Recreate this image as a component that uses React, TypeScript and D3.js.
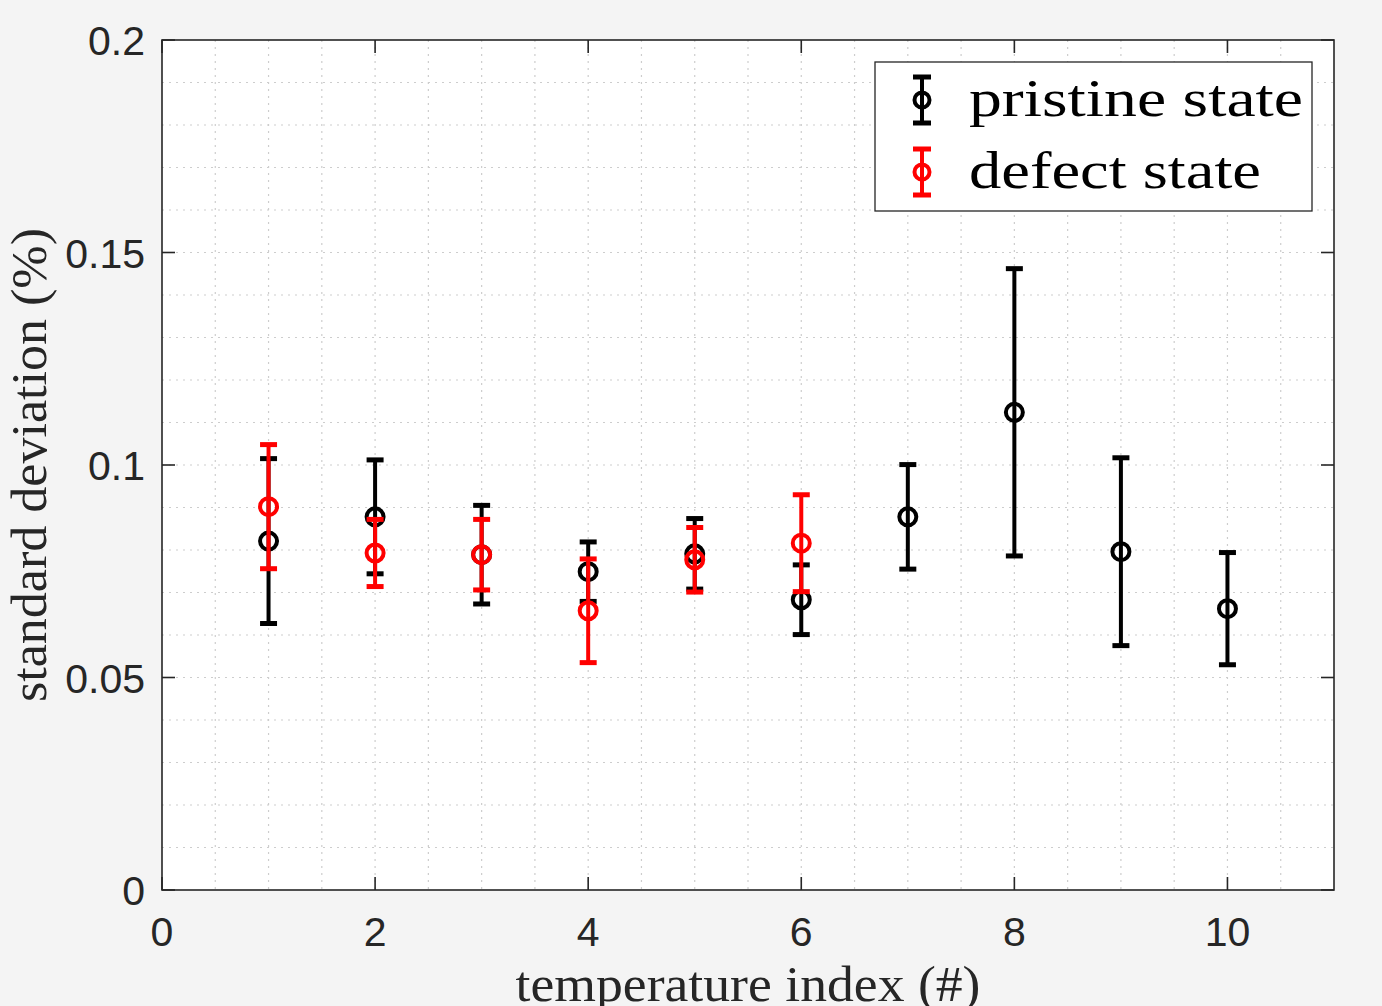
import { useEffect, useRef } from "react";
import * as d3 from "d3";

// temperature index on the x axis
const tempIndex = [1, 2, 3, 4, 5, 6, 7, 8, 9, 10];
const defectIndex = [1, 2, 3, 4, 5, 6];

// standard deviation (%) and error half-width
const pristineMean = [0.0821, 0.0878, 0.0789, 0.0749, 0.0791, 0.0683, 0.0878, 0.1124, 0.0796, 0.0662];
const pristineErr = [0.0194, 0.0134, 0.0116, 0.007, 0.0083, 0.0082, 0.0123, 0.0338, 0.0221, 0.0132];
const defectMean = [0.0902, 0.0793, 0.0789, 0.0657, 0.0777, 0.0816];
const defectErr = [0.0146, 0.0079, 0.0083, 0.0122, 0.0076, 0.0114];

const xTicks = [0, 2, 4, 6, 8, 10];
const yTicks = [0, 0.05, 0.1, 0.15, 0.2];
const seriesNames = ["pristine state", "defect state"];

const W = 1382;
const H = 1006;
const margin = { top: 40, right: 48, bottom: 116, left: 162 };
const AX = "#262626";

export default function App() {
  const ref = useRef<SVGSVGElement>(null);

  useEffect(() => {
    const svg = d3.select(ref.current);
    svg.selectAll("*").remove();

    const pw = W - margin.left - margin.right;
    const ph = H - margin.top - margin.bottom;

    svg.append("rect").attr("width", W).attr("height", H).attr("fill", "#f4f4f4");

    const x = d3.scaleLinear().domain([0, 11]).range([0, pw]);
    const y = d3.scaleLinear().domain([0, 0.2]).range([ph, 0]);

    const g = svg.append("g").attr("transform", `translate(${margin.left},${margin.top})`);
    g.append("rect").attr("width", pw).attr("height", ph).attr("fill", "white");

    // dotted grid, every 0.5 on x and every 0.01 on y
    const gx = d3.range(0.5, 11, 0.5);
    const gy = d3.range(0.01, 0.2, 0.01);
    g.selectAll(".gx")
      .data(gx)
      .join("line")
      .attr("x1", d => x(d)).attr("x2", d => x(d))
      .attr("y1", 0).attr("y2", ph)
      .attr("stroke", "#cdcdcd").attr("stroke-width", 1.2)
      .attr("stroke-dasharray", "2,5");
    g.selectAll(".gy")
      .data(gy)
      .join("line")
      .attr("y1", d => y(d)).attr("y2", d => y(d))
      .attr("x1", 0).attr("x2", pw)
      .attr("stroke", "#cdcdcd").attr("stroke-width", 1.2)
      .attr("stroke-dasharray", "2,5");

    // box and inward ticks
    g.append("rect").attr("width", pw).attr("height", ph)
      .attr("fill", "none").attr("stroke", AX).attr("stroke-width", 1.6);
    const tl = 13;
    xTicks.forEach(t => {
      g.append("line").attr("x1", x(t)).attr("x2", x(t)).attr("y1", ph).attr("y2", ph - tl)
        .attr("stroke", AX).attr("stroke-width", 1.6);
      g.append("line").attr("x1", x(t)).attr("x2", x(t)).attr("y1", 0).attr("y2", tl)
        .attr("stroke", AX).attr("stroke-width", 1.6);
      g.append("text").attr("x", x(t)).attr("y", ph + 56)
        .attr("text-anchor", "middle")
        .attr("font-family", "'Liberation Sans', Arial, sans-serif")
        .attr("font-size", 41).attr("fill", AX)
        .text(d3.format("")(t));
    });
    yTicks.forEach(t => {
      g.append("line").attr("y1", y(t)).attr("y2", y(t)).attr("x1", 0).attr("x2", tl)
        .attr("stroke", AX).attr("stroke-width", 1.6);
      g.append("line").attr("y1", y(t)).attr("y2", y(t)).attr("x1", pw).attr("x2", pw - tl)
        .attr("stroke", AX).attr("stroke-width", 1.6);
      g.append("text").attr("x", -17).attr("y", y(t) + 15)
        .attr("text-anchor", "end")
        .attr("font-family", "'Liberation Sans', Arial, sans-serif")
        .attr("font-size", 41).attr("fill", AX)
        .text(String(t));
    });

    // axis labels
    g.append("text")
      .attr("x", pw / 2).attr("y", ph + 111)
      .attr("text-anchor", "middle")
      .attr("font-family", "'Liberation Serif', serif")
      .attr("font-size", 50).attr("fill", AX)
      .attr("textLength", 465).attr("lengthAdjust", "spacingAndGlyphs")
      .text("temperature index (#)");
    svg.append("text")
      .attr("transform", `translate(46,${margin.top + ph / 2}) rotate(-90)`)
      .attr("text-anchor", "middle")
      .attr("font-family", "'Liberation Serif', serif")
      .attr("font-size", 50).attr("fill", AX)
      .attr("textLength", 474).attr("lengthAdjust", "spacingAndGlyphs")
      .text("standard deviation (%)");

    // error bar series
    const capW = 8.5;
    const drawSeries = (xs: number[], ms: number[], es: number[], color: string) => {
      const data = xs.map((d, i) => ({ x: d, m: ms[i], e: es[i] }));
      const sg = g.append("g");
      sg.selectAll(".bar").data(data).join("line")
        .attr("x1", d => x(d.x)).attr("x2", d => x(d.x))
        .attr("y1", d => y(d.m + d.e)).attr("y2", d => y(d.m - d.e))
        .attr("stroke", color).attr("stroke-width", 4);
      sg.selectAll(".capT").data(data).join("line")
        .attr("x1", d => x(d.x) - capW).attr("x2", d => x(d.x) + capW)
        .attr("y1", d => y(d.m + d.e)).attr("y2", d => y(d.m + d.e))
        .attr("stroke", color).attr("stroke-width", 5);
      sg.selectAll(".capB").data(data).join("line")
        .attr("x1", d => x(d.x) - capW).attr("x2", d => x(d.x) + capW)
        .attr("y1", d => y(d.m - d.e)).attr("y2", d => y(d.m - d.e))
        .attr("stroke", color).attr("stroke-width", 5);
      sg.selectAll("circle").data(data).join("circle")
        .attr("cx", d => x(d.x)).attr("cy", d => y(d.m)).attr("r", 8.5)
        .attr("fill", "none").attr("stroke", color).attr("stroke-width", 4);
    };
    drawSeries(tempIndex, pristineMean, pristineErr, "#000000");
    drawSeries(defectIndex, defectMean, defectErr, "#ff0000");

    // legend
    const lg = svg.append("g");
    lg.append("rect").attr("x", 875).attr("y", 62).attr("width", 437).attr("height", 149)
      .attr("fill", "white").attr("stroke", AX).attr("stroke-width", 1.3);
    const colors = ["#000000", "#ff0000"];
    const lens = [334, 292];
    seriesNames.forEach((name, i) => {
      const cy = 100 + i * 72;
      const c = colors[i];
      lg.append("line").attr("x1", 922).attr("x2", 922).attr("y1", cy - 23).attr("y2", cy + 23)
        .attr("stroke", c).attr("stroke-width", 4);
      [cy - 23, cy + 23].forEach(yy => {
        lg.append("line").attr("x1", 913).attr("x2", 931).attr("y1", yy).attr("y2", yy)
          .attr("stroke", c).attr("stroke-width", 5);
      });
      lg.append("circle").attr("cx", 922).attr("cy", cy).attr("r", 7.5)
        .attr("fill", "none").attr("stroke", c).attr("stroke-width", 4);
      lg.append("text").attr("x", 969).attr("y", cy + 16)
        .attr("font-family", "'Liberation Serif', serif")
        .attr("font-size", 53).attr("fill", "#000")
        .attr("textLength", lens[i]).attr("lengthAdjust", "spacingAndGlyphs")
        .text(name);
    });
  }, []);

  return (
    <svg
      ref={ref}
      width={W}
      height={H}
      style={{ position: "absolute", left: 0, top: 0, display: "block" }}
    />
  );
}
